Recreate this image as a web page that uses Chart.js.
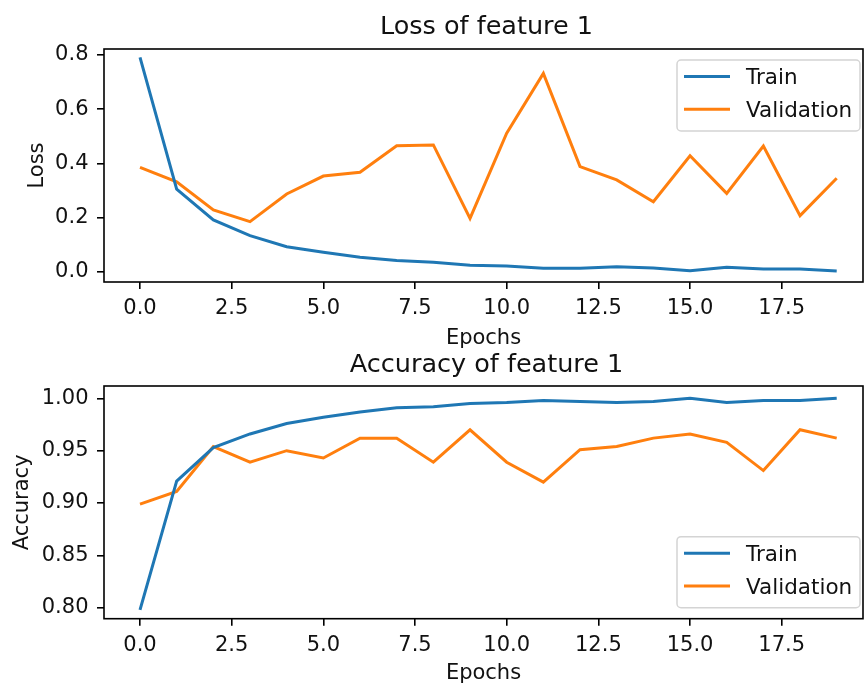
<!DOCTYPE html>
<html>
<head>
<meta charset="utf-8">
<script src="https://cdn.jsdelivr.net/npm/chart.js@4.4.1/dist/chart.umd.min.js"></script>
<style>
  html, body { margin: 0; padding: 0; background: #fff; }
  #wrap { position: relative; width: 864px; height: 686px; overflow: hidden; }
  canvas { position: absolute; left: 0; }
  #lossChart { top: 0; }
  #accChart { top: 343px; }
</style>
</head>
<body>
<div id="wrap">
  <canvas id="lossChart" width="864" height="351"></canvas>
  <canvas id="accChart" width="864" height="343"></canvas>
</div>
<script>
/* ===== Training curves, feature 1 ===== */

const epochs = [0, 1, 2, 3, 4, 5, 6, 7, 8, 9, 10, 11, 12, 13, 14, 15, 16, 17, 18, 19];

const trainLoss = [0.791, 0.305, 0.191, 0.133, 0.092, 0.072, 0.053, 0.041, 0.035, 0.024,
                   0.021, 0.013, 0.013, 0.018, 0.014, 0.004, 0.016, 0.010, 0.010, 0.003];
const valLoss   = [0.385, 0.332, 0.228, 0.185, 0.287, 0.353, 0.367, 0.465, 0.468, 0.197,
                   0.511, 0.732, 0.388, 0.339, 0.258, 0.428, 0.289, 0.464, 0.207, 0.345];

const trainAcc = [0.798, 0.921, 0.953, 0.966, 0.976, 0.982, 0.987, 0.991, 0.992, 0.995,
                  0.996, 0.998, 0.997, 0.996, 0.997, 1.000, 0.996, 0.998, 0.998, 1.000];
const valAcc   = [0.899, 0.911, 0.954, 0.939, 0.950, 0.943, 0.962, 0.962, 0.939, 0.970,
                  0.939, 0.920, 0.951, 0.954, 0.962, 0.966, 0.958, 0.931, 0.970, 0.962];

const xTicks = [0, 2.5, 5, 7.5, 10, 12.5, 15, 17.5];
const lossTicks = [0, 0.2, 0.4, 0.6, 0.8];
const accTicks = [0.80, 0.85, 0.90, 0.95, 1.00];

const seriesNames = ['Train', 'Validation'];
const seriesColors = ['#1f77b4', '#ff7f0e'];

const TEXT = '#111';
const FS = 21;
Chart.defaults.font.family = '"DejaVu Sans", sans-serif';
Chart.defaults.color = TEXT;

// axes box on all four sides, drawn over the lines like matplotlib spines
const framePlugin = {
  id: 'frame',
  afterDatasetsDraw(chart) {
    const { ctx, chartArea: a } = chart;
    ctx.save();
    ctx.strokeStyle = '#000';
    ctx.lineWidth = 1.6;
    ctx.strokeRect(a.left, a.top, a.right - a.left, a.bottom - a.top);
    ctx.restore();
  }
};

// legend box inside the plot area
const insideLegend = {
  id: 'insideLegend',
  afterDraw(chart, args, opts) {
    const { ctx, chartArea } = chart;
    const w = 183, h = 71;
    const x = chartArea.right - 3 - w;
    const y = opts.where === 'top' ? chartArea.top + 11 : chartArea.bottom - 11 - h;
    ctx.save();
    ctx.beginPath();
    ctx.roundRect(x, y, w, h, 4);
    ctx.fillStyle = 'rgba(255,255,255,0.8)';
    ctx.fill();
    ctx.strokeStyle = '#d4d4d4';
    ctx.lineWidth = 1.5;
    ctx.stroke();
    chart.data.datasets.forEach((ds, i) => {
      const ly = y + 16.5 + i * 32.7;
      ctx.strokeStyle = ds.borderColor;
      ctx.lineWidth = 3;
      ctx.beginPath();
      ctx.moveTo(x + 7, ly);
      ctx.lineTo(x + 53, ly);
      ctx.stroke();
      ctx.fillStyle = TEXT;
      ctx.font = '21.5px "DejaVu Sans"';
      ctx.textBaseline = 'alphabetic';
      ctx.textAlign = 'left';
      ctx.fillText(ds.label, x + 69, ly + 7.8);
    });
    ctx.restore();
  }
};

// matplotlib centres the title on the (slightly wider) axes
const titleShift = {
  id: 'titleShift',
  afterLayout(chart) {
    if (chart.titleBlock) {
      chart.titleBlock.left += 3;
      chart.titleBlock.right += 3;
    }
  }
};

function makeDatasets(train, val) {
  return [train, val].map((vals, i) => ({
    label: seriesNames[i],
    data: epochs.map((e, j) => ({ x: e, y: vals[j] })),
    borderColor: seriesColors[i],
    backgroundColor: seriesColors[i],
    borderWidth: 3,
    pointRadius: 0,
    tension: 0,
    fill: false
  }));
}

function makeChart(id, cfg) {
  const tickGrid = { display: true, drawOnChartArea: false, drawTicks: true, tickLength: 7, color: '#000', lineWidth: 1.6 };
  return new Chart(document.getElementById(id), {
    type: 'line',
    data: { datasets: makeDatasets(cfg.train, cfg.val) },
    plugins: [framePlugin, insideLegend, titleShift],
    options: {
      responsive: false,
      animation: false,
      layout: { padding: { left: 0, right: 1, top: 0, bottom: 0 } },
      scales: {
        x: {
          type: 'linear',
          min: -0.982,
          max: 19.717,
          afterBuildTicks: s => { s.ticks = xTicks.map(v => ({ value: v })); },
          afterFit: s => { s.height = cfg.xHeight; },
          grid: tickGrid,
          border: { display: false },
          ticks: { padding: 7, font: { size: FS }, maxRotation: 0, autoSkip: false, callback: v => v.toFixed(1) },
          title: { display: true, text: 'Epochs', font: { size: FS }, padding: { top: 0, bottom: 0 } }
        },
        y: {
          type: 'linear',
          min: cfg.yMin,
          max: cfg.yMax,
          afterBuildTicks: s => { s.ticks = cfg.yTicks.map(v => ({ value: v })); },
          afterFit: s => { s.width = 104; },
          grid: tickGrid,
          border: { display: false },
          ticks: { padding: 8.5, font: { size: FS }, autoSkip: false, callback: v => v.toFixed(cfg.digits) },
          title: { display: true, text: cfg.yLabel, font: { size: FS }, padding: { top: cfg.yTitlePad, bottom: 0 } }
        }
      },
      plugins: {
        legend: { display: false },
        tooltip: { enabled: false },
        title: {
          display: true,
          fullSize: false,
          text: cfg.title,
          color: TEXT,
          font: { size: 25.5, weight: 'normal' },
          padding: cfg.titlePad
        },
        insideLegend: { where: cfg.legendAt }
      }
    }
  });
}

makeChart('lossChart', {
  train: trainLoss, val: valLoss,
  title: 'Loss of feature 1', titlePad: { top: 12, bottom: 6.4 },
  yLabel: 'Loss', yTitlePad: 24.5, yMin: -0.038, yMax: 0.822, yTicks: lossTicks, digits: 1,
  xHeight: 69, legendAt: 'top'
});

makeChart('accChart', {
  train: trainAcc, val: valAcc,
  title: 'Accuracy of feature 1', titlePad: { top: 7, bottom: 5.4 },
  yLabel: 'Accuracy', yTitlePad: 9.5, yMin: 0.7895, yMax: 1.0118, yTicks: accTicks, digits: 2,
  xHeight: 67.3, legendAt: 'bottom'
});
</script>
</body>
</html>
